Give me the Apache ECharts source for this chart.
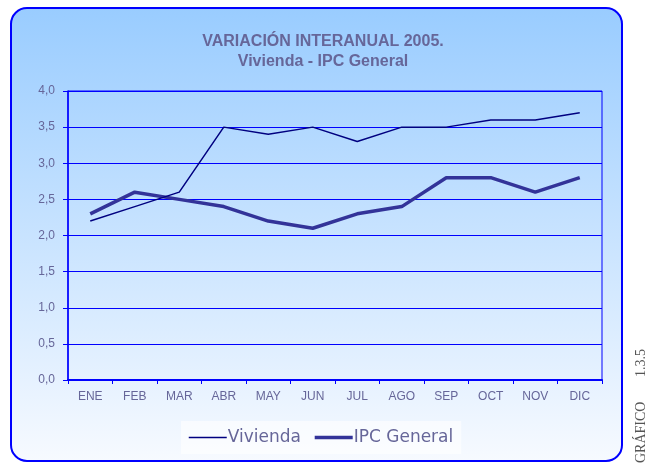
<!DOCTYPE html>
<html>
<head>
<meta charset="utf-8">
<script src="https://cdn.jsdelivr.net/npm/echarts@6/dist/echarts.min.js"></script>
<style>
  html, body { margin: 0; padding: 0; background: #fff; }
  #chart { width: 648px; height: 464px; }
</style>
</head>
<body>
<div id="chart"></div>
<script>
// months and year-on-year variation (%), 2005
const months = ['ENE', 'FEB', 'MAR', 'ABR', 'MAY', 'JUN', 'JUL', 'AGO', 'SEP', 'OCT', 'NOV', 'DIC'];
const vivienda = [2.2, 2.4, 2.6, 3.5, 3.4, 3.5, 3.3, 3.5, 3.5, 3.6, 3.6, 3.7];
const ipcGeneral = [2.3, 2.6, 2.5, 2.4, 2.2, 2.1, 2.3, 2.4, 2.8, 2.8, 2.6, 2.8];
const seriesNames = ['Vivienda', 'IPC General'];

const fmtComma = v => v.toFixed(1).replace('.', ',');
const labelColor = '#666699';
const arial = 'Arial, "Liberation Sans", sans-serif';

const chart = echarts.init(document.getElementById('chart'), null, { renderer: 'canvas' });
chart.setOption({
  backgroundColor: '#ffffff',
  animation: false,
  graphic: [
    {
      type: 'rect',
      z: -10,
      shape: { x: 11, y: 8, width: 611, height: 453, r: 16 },
      style: {
        fill: new echarts.graphic.LinearGradient(0, 0, 0, 1, [
          { offset: 0, color: '#99ccff' },
          { offset: 1, color: '#f7faff' }
        ]),
        stroke: '#0000ff',
        lineWidth: 2
      }
    },
    {
      type: 'text',
      x: 641,
      y: 463,
      rotation: Math.PI / 2,
      style: {
        text: 'GRÁFICO       1.3.5',
        font: '14px "Liberation Serif", serif',
        fill: '#555555',
        verticalAlign: 'middle'
      }
    }
  ],
  title: {
    text: 'VARIACIÓN INTERANUAL 2005.\nVivienda - IPC General',
    left: 318,
    textAlign: 'center',
    top: 27,
    textStyle: {
      fontFamily: arial,
      fontWeight: 'bold',
      fontSize: 16,
      lineHeight: 20,
      color: labelColor
    }
  },
  legend: {
    data: [
      { name: seriesNames[0], lineStyle: { width: 1.5 } },
      { name: seriesNames[1], lineStyle: { width: 3.5 } }
    ],
    left: 181,
    top: 421,
    itemWidth: 38,
    itemHeight: 10,
    itemGap: 12,
    padding: [8, 8, 8, 7],
    backgroundColor: 'rgba(255,255,255,0.6)',
    itemStyle: { opacity: 0 },
    textStyle: { fontFamily: '"DejaVu Sans", Verdana, sans-serif', fontSize: 17, color: labelColor, padding: [0, 0, 0, -4] }
  },
  grid: {
    left: 68, right: 46, top: 91, bottom: 84,
    show: true,
    borderColor: '#0000ff',
    borderWidth: 1,
    backgroundColor: 'transparent'
  },
  xAxis: {
    type: 'category',
    data: months,
    boundaryGap: true,
    axisLine: { lineStyle: { color: '#0000ff', width: 2 } },
    axisTick: { show: true, length: 4, lineStyle: { color: '#0000ff' } },
    axisLabel: { color: labelColor, fontSize: 12, fontFamily: arial, margin: 11 }
  },
  yAxis: {
    type: 'value',
    min: 0, max: 4, interval: 0.5,
    axisLine: { show: true, lineStyle: { color: '#0000ff', width: 1.5 } },
    axisTick: { show: true, length: 5, lineStyle: { color: '#0000ff' } },
    axisLabel: { color: labelColor, fontSize: 12, fontFamily: arial, margin: 13, formatter: fmtComma },
    splitLine: { show: true, lineStyle: { color: '#0000ff', width: 1 } }
  },
  series: [
    {
      name: seriesNames[0],
      type: 'line',
      data: vivienda,
      symbol: 'none',
      lineStyle: { color: '#000080', width: 1.5 },
      itemStyle: { color: '#000080' },
      z: 3
    },
    {
      name: seriesNames[1],
      type: 'line',
      data: ipcGeneral,
      symbol: 'none',
      lineStyle: { color: '#333399', width: 3.5 },
      itemStyle: { color: '#333399' },
      z: 2
    }
  ]
});
</script>
</body>
</html>
